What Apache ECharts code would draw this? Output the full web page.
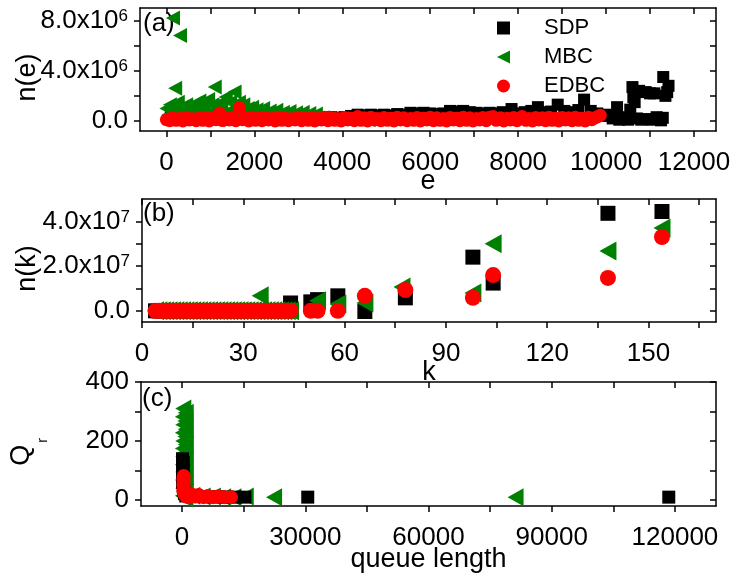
<!DOCTYPE html>
<html>
<head>
<meta charset="utf-8">
<script src="https://cdn.jsdelivr.net/npm/echarts@6/dist/echarts.min.js"></script>
<style>
    html, body { margin: 0; padding: 0; background: #fff; }
    #chart { width: 737px; height: 576px; }
</style>
</head>
<body>
<div id="chart"></div>
<script>
// ---- panel (a): n(e) against e, n in units of 10^6 ----
var sdpE = [100, 400, 800, 1200, 1600, 2000, 2400, 2800,
    3000, 3150, 3300, 3450, 3600, 3750, 3900, 4050, 4200, 4350, 4500, 4650, 4800, 4950, 5100, 5250, 5400, 5550, 5700, 5850,
    6000, 6150, 6300, 6450, 6600, 6750, 6900, 7050, 7200, 7350, 7500, 7650, 7850, 8000, 8150, 8300, 8450, 8600, 8750, 8900,
    9050, 9200, 9370, 9500, 9650, 9800, 9950,
    10050, 10150, 10250, 10300, 10400, 10500, 10550, 10600, 10620, 10650, 10700, 10750, 10800, 10900, 10950, 11000, 11050,
    11100, 11150, 11250, 11290, 11300, 11350, 11390, 11420];
var sdpN = [0.3, 0.2, 0.35, 0.3, 0.4, 0.35, 0.3, 0.35,
    0.35, 0.3, 0.35, 0.3, 0.25, 0.3, 0.25, 0.3, 0.4, 0.5, 0.45, 0.5, 0.45, 0.5, 0.45, 0.55, 0.5, 0.65, 0.6, 0.65,
    0.6, 0.55, 0.6, 0.8, 0.75, 0.8, 0.7, 0.65, 0.6, 0.65, 0.6, 0.7, 0.95, 0.6, 0.7, 0.8, 1.1, 0.7, 0.75, 1.3,
    0.8, 0.7, 0.87, 1.7, 0.8, 0.6, 0.4,
    0.5, 0.2, 1.1, 0.1, 0.3, 0.1, 0.9, 2.7, 1.9, 1.5, 0.2, 2.4, 0.1, 2.3, 0.15, 2.2, 0.1,
    2.2, 0.3, 0.05, 0.25, 3.5, 2.0, 2.3, 2.8];

var mbcE = [150, 310, 200, 1100, 1550,
    0, 80, 160, 260, 350, 450, 550, 650, 750, 850, 950, 1050, 1150, 1250, 1350, 1450, 1650, 1750, 1850, 1950,
    2050, 2200, 2350, 2500, 2650, 2800, 2950, 3100, 3250, 3400,
    50, 130, 230, 330, 420, 520, 620, 720, 820, 920, 1020, 1120, 1220, 1320, 1420, 1520, 1620, 1720, 1820, 1920,
    2020, 2120, 2280, 2430, 2580, 2730, 2880, 3030, 3180, 3330, 3550, 3700, 4000, 4300, 4600];
var mbcN = [8.2, 6.8, 2.6, 2.7, 2.3,
    1.0, 1.3, 0.8, 1.5, 1.1, 1.3, 0.9, 1.4, 1.6, 1.2, 1.7, 1.3, 1.0, 1.5, 1.9, 1.5, 1.5, 1.3, 1.0, 1.1,
    0.9, 1.0, 0.8, 0.85, 0.7, 0.75, 0.65, 0.7, 0.6, 0.55,
    0.5, 0.4, 0.6, 0.4, 0.55, 0.45, 0.6, 0.5, 0.7, 0.5, 0.6, 0.45, 0.7, 0.5, 0.8, 0.55, 0.9, 0.6, 0.5, 0.45,
    0.6, 0.4, 0.5, 0.45, 0.4, 0.45, 0.4, 0.35, 0.4, 0.3, 0.25, 0.2, 0.2, 0.15, 0.1];

var edbcE = [0, 75, 140, 220, 300, 375, 450, 525, 600, 680, 760, 830, 900, 975, 1050, 1130, 1210, 1280, 1350, 1425,
    1500, 1580, 1660, 1730, 1800, 1875, 1950, 2025, 2100, 2175, 2250, 2325, 2400, 2475, 2550, 2625, 2700, 2775, 2850, 2925,
    3000, 3075, 3150, 3225, 3300, 3375, 3450, 3525, 3600, 3675, 3750, 3825, 3900, 3975, 4050, 4125, 4200, 4275, 4350, 4425,
    4500, 4575, 4650, 4725, 4800, 4875, 4950, 5025, 5100, 5175, 5250, 5325, 5400, 5475, 5550, 5625, 5700, 5775, 5850, 5925,
    6000, 6075, 6150, 6225, 6300, 6375, 6450, 6525, 6600, 6675, 6750, 6825, 6900, 6975, 7050, 7125, 7200, 7275, 7350, 7430,
    7500, 7600, 7675, 7750, 7825, 7900, 7975, 8090, 8175, 8250, 8325, 8400, 8475, 8550, 8625, 8700, 8775, 8850, 8925, 9000,
    9075, 9150, 9225, 9300, 9375, 9450, 9525, 9600, 9675, 9750, 9810, 9870];
var edbcN = [0.10, 0.02, 0.28, 0.05, 0.20, 0.00, 0.30, 0.08, 0.18, 0.02, 0.30, 0.05, 0.22, 0.00, 0.28, 0.10, 0.64, 0.03, 0.25, 0.08,
    0.30, 0.02, 1.05, 0.10, 0.25, 0.00, 0.30, 0.05, 0.22, 0.02, 0.28, 0.08, 0.20, 0.00, 0.30, 0.05, 0.25, 0.02, 0.18, 0.08,
    0.30, 0.02, 0.22, 0.05, 0.28, 0.00, 0.20, 0.08, 0.30, 0.02, 0.25, 0.05, 0.20, 0.00, 0.28, 0.08, 0.22, 0.02, 0.35, 0.05,
    0.25, 0.00, 0.30, 0.08, 0.20, 0.02, 0.28, 0.05, 0.22, 0.00, 0.30, 0.08, 0.25, 0.02, 0.20, 0.05, 0.28, 0.00, 0.22, 0.08,
    0.30, 0.02, 0.25, 0.05, 0.20, 0.00, 0.28, 0.08, 0.22, 0.02, 0.30, 0.05, 0.25, 0.00, 0.20, 0.08, 0.28, 0.02, 0.30, 0.35,
    0.05, 0.25, 0.00, 0.22, 0.08, 0.28, 0.02, 0.35, 0.05, 0.20, 0.00, 0.28, 0.08, 0.25, 0.02, 0.30, 0.05, 0.22, 0.00, 0.28,
    0.08, 0.25, 0.02, 0.30, 0.05, 0.22, 0.00, 0.30, 0.10, 0.25, 0.35, 0.45];

// ---- panel (b): n(k) against k, n in units of 10^7 ----
var kLow = [4, 5, 6, 7, 8, 9, 10, 11, 12, 13, 14, 15, 16, 17, 18, 19, 20, 21, 22, 23, 24, 25, 26, 27, 28, 29, 30, 31, 32,
    33, 34, 35, 36, 37, 38, 39, 40, 41, 42, 43, 44];
var nLow = [0, 0, 0, 0, 0, 0, 0, 0, 0, 0, 0, 0, 0, 0, 0, 0, 0, 0, 0, 0, 0, 0, 0, 0, 0, 0, 0, 0, 0,
    0, 0, 0, 0, 0, 0, 0, 0, 0, 0, 0, 0];
var sdpK = [44, 50, 52, 58, 66, 78, 98, 104, 138, 154];
var sdpNk = [0.35, 0.4, 0.5, 0.67, -0.03, 0.58, 2.4, 1.24, 4.36, 4.44];
var mbcK = [35, 52, 58, 66, 77, 98, 104, 138, 154];
var mbcNk = [0.67, 0.45, 0.3, 0.35, 1.07, 0.8, 3.0, 2.67, 3.7];
var edbcK = [50, 52, 58, 66, 78, 98, 104, 138, 154];
var edbcNk = [0, 0, 0, 0.67, 0.93, 0.58, 1.6, 1.47, 3.3];

// ---- panel (c): Q_r against queue length ----
var sdpQ = [100, 300, 100, 300, 100, 300, 100, 300, 400, 600, 900, 2000, 3500, 5000, 7000, 9000, 11000, 13000, 15300, 30600, 118500];
var sdpR = [140, 128, 115, 100, 88, 75, 60, 45, 32, 22, 14, 14, 12, 12, 11, 11, 10, 10, 10, 10, 10];
var mbcQ = [300, 900, 200, 800, 300, 900, 200, 800, 300, 900, 200, 800, 300, 900, 200, 800, 300, 900, 200, 800, 300, 900, 200, 800,
    2500, 5000, 7500, 10000, 12500, 15500, 22400, 81200];
var mbcR = [310, 296, 282, 268, 255, 240, 228, 215, 200, 188, 175, 160, 148, 135, 120, 108, 95, 80, 68, 55, 40, 28, 15, 5,
    15, 12, 12, 10, 10, 12, 10, 10];
var edbcQ = [400, 300, 400, 300, 400, 300, 500, 700, 1000, 1500, 2500, 3200, 4100, 5200, 6300, 7500, 8700, 10300, 11900];
var edbcR = [82, 72, 62, 52, 42, 32, 24, 18, 12, 10, 18, 12, 17, 10, 14, 10, 12, 10, 10];

var panelLabels = ['(a)', '(b)', '(c)'];
var seriesNames = ['SDP', 'MBC', 'EDBC'];

var FONT = 'Liberation Sans';
var chart = echarts.init(document.getElementById('chart'));

function zip(xs, ys) {
    var out = [];
    for (var i = 0; i < xs.length; i++) {
        out.push([xs[i], ys[i]]);
    }
    return out;
}

// values are already in units of 10^exp
function sciLabel(exp) {
    return function (v) {
        if (v === 0) return '0.0';
        return '{m|' + v.toFixed(1) + 'x10}{s|' + exp + '}';
    };
}

function plain(v) {
    return String(v);
}

var lineStyle = { color: '#000', width: 1.5 };

// bottom/left axes carry labels; top/right are the mirrored frame with inward ticks
function xPair(grid, min, max, ticks, labels, name, nameGap) {
    return [{
        type: 'value', gridIndex: grid, position: 'bottom', min: min, max: max,
        name: name, nameLocation: 'middle', nameGap: nameGap, nameMoveOverlap: false,
        nameTextStyle: { fontFamily: FONT, fontSize: 27, color: '#000' },
        axisLine: { onZero: false, lineStyle: lineStyle },
        axisTick: { length: 6, lineStyle: lineStyle, customValues: ticks },
        axisLabel: { margin: 19, fontFamily: FONT, fontSize: 26, color: '#000', customValues: labels, formatter: plain },
        splitLine: { show: false }
    }, {
        type: 'value', gridIndex: grid, position: 'top', min: min, max: max,
        axisLine: { onZero: false, lineStyle: lineStyle },
        axisTick: { inside: true, length: 6, lineStyle: lineStyle, customValues: ticks },
        axisLabel: { show: false },
        splitLine: { show: false }
    }];
}

function yPair(grid, min, max, ticks, labels, fmt, name, nameGap) {
    return [{
        type: 'value', gridIndex: grid, position: 'left', min: min, max: max,
        name: name, nameLocation: 'middle', nameGap: nameGap, nameMoveOverlap: false,
        nameTextStyle: {
            fontFamily: FONT, fontSize: 27, color: '#000', padding: [0, 16, 0, 0],
            rich: {
                q: { fontFamily: FONT, fontSize: 27, color: '#000', verticalAlign: 'top' },
                r: { fontFamily: FONT, fontSize: 14, color: '#000', verticalAlign: 'top', padding: [28, 0, 0, 2] }
            }
        },
        axisLine: { onZero: false, lineStyle: lineStyle },
        axisTick: { length: 6, lineStyle: lineStyle, customValues: ticks },
        axisLabel: {
            margin: 12, fontFamily: FONT, fontSize: 26, color: '#000', customValues: labels, formatter: fmt,
            rich: {
                m: { fontFamily: FONT, fontSize: 26, color: '#000' },
                s: { fontFamily: FONT, fontSize: 17, color: '#000', verticalAlign: 'top' }
            }
        },
        splitLine: { show: false }
    }, {
        type: 'value', gridIndex: grid, position: 'right', min: min, max: max,
        axisLine: { onZero: false, lineStyle: lineStyle },
        axisTick: { inside: true, length: 6, lineStyle: lineStyle, customValues: ticks },
        axisLabel: { show: false },
        splitLine: { show: false }
    }];
}

function scatter(name, grid, data, kind, size) {
    var s = {
        name: name, type: 'scatter', xAxisIndex: grid * 2, yAxisIndex: grid * 2,
        data: data, symbolSize: size, itemStyle: { opacity: 1 }
    };
    if (kind === 0) { s.symbol = 'rect'; s.itemStyle.color = '#000000'; }
    if (kind === 1) { s.symbol = 'triangle'; s.symbolRotate = 90; s.itemStyle.color = '#008000'; }
    if (kind === 2) { s.symbol = 'circle'; s.itemStyle.color = '#ff0000'; }
    return s;
}

var xAxes = [].concat(
    xPair(0, -600, 12500, [0, 1000, 2000, 3000, 4000, 5000, 6000, 7000, 8000, 9000, 10000, 11000, 12000],
        [0, 2000, 4000, 6000, 8000, 10000, 12000], 'e', 37),
    xPair(1, 0, 170, [0, 15, 30, 45, 60, 75, 90, 105, 120, 135, 150, 165],
        [0, 30, 60, 90, 120, 150], 'k', 37),
    xPair(2, -10000, 130000, [0, 15000, 30000, 45000, 60000, 75000, 90000, 105000, 120000],
        [0, 30000, 60000, 90000, 120000], 'queue length', 40)
);
var yAxes = [].concat(
    yPair(0, -0.8, 9, [0, 2, 4, 6, 8], [0, 4, 8], sciLabel(6), 'n(e)', 99),
    yPair(1, -0.5, 5, [0, 1, 2, 3, 4], [0, 2, 4], sciLabel(7), 'n(k)', 101),
    yPair(2, -20, 400, [0, 100, 200, 300, 400], [0, 200, 400], plain, '{q|Q}{r|r}', 91)
);

var option = {
    animation: false,
    backgroundColor: '#fff',
    textStyle: { fontFamily: FONT },
    grid: [
        { left: 140, top: 8, width: 576, height: 123 },
        { left: 142, top: 199, width: 574, height: 123 },
        { left: 140, top: 382, width: 576, height: 124 }
    ],
    xAxis: xAxes,
    yAxis: yAxes,
    legend: {
        orient: 'vertical', left: 492, top: 12, itemGap: 7,
        itemWidth: 13, itemHeight: 13,
        data: [
            { name: seriesNames[0] },
            { name: seriesNames[1], icon: 'path://M0,5L10,0L10,10Z' },
            { name: seriesNames[2] }
        ],
        textStyle: { fontFamily: FONT, fontSize: 22, color: '#000', padding: [0, 0, 0, 29] }
    },
    graphic: [
        { type: 'text', left: 143, top: 11, style: { text: panelLabels[0], font: '26px "Liberation Sans"', fill: '#000' } },
        { type: 'text', left: 143, top: 201, style: { text: panelLabels[1], font: '26px "Liberation Sans"', fill: '#000' } },
        { type: 'text', left: 142, top: 386, style: { text: panelLabels[2], font: '26px "Liberation Sans"', fill: '#000' } }
    ],
    series: [
        scatter('SDP', 0, zip(sdpE, sdpN), 0, 12),
        scatter('MBC', 0, zip(mbcE, mbcN), 1, [15, 14]),
        scatter('EDBC', 0, zip(edbcE, edbcN), 2, 13),
        scatter('SDP', 1, zip(kLow, nLow).concat(zip(sdpK, sdpNk)), 0, 15),
        scatter('MBC', 1, zip(kLow, nLow).concat(zip(mbcK, mbcNk)), 1, [19, 17]),
        scatter('EDBC', 1, zip(kLow, nLow).concat(zip(edbcK, edbcNk)), 2, 16),
        // in (c) the squares sit over the triangles
        scatter('MBC', 2, zip(mbcQ, mbcR), 1, [18, 16]),
        scatter('SDP', 2, zip(sdpQ, sdpR), 0, 13),
        scatter('EDBC', 2, zip(edbcQ, edbcR), 2, 14)
    ]
};
chart.setOption(option);
</script>
</body>
</html>
